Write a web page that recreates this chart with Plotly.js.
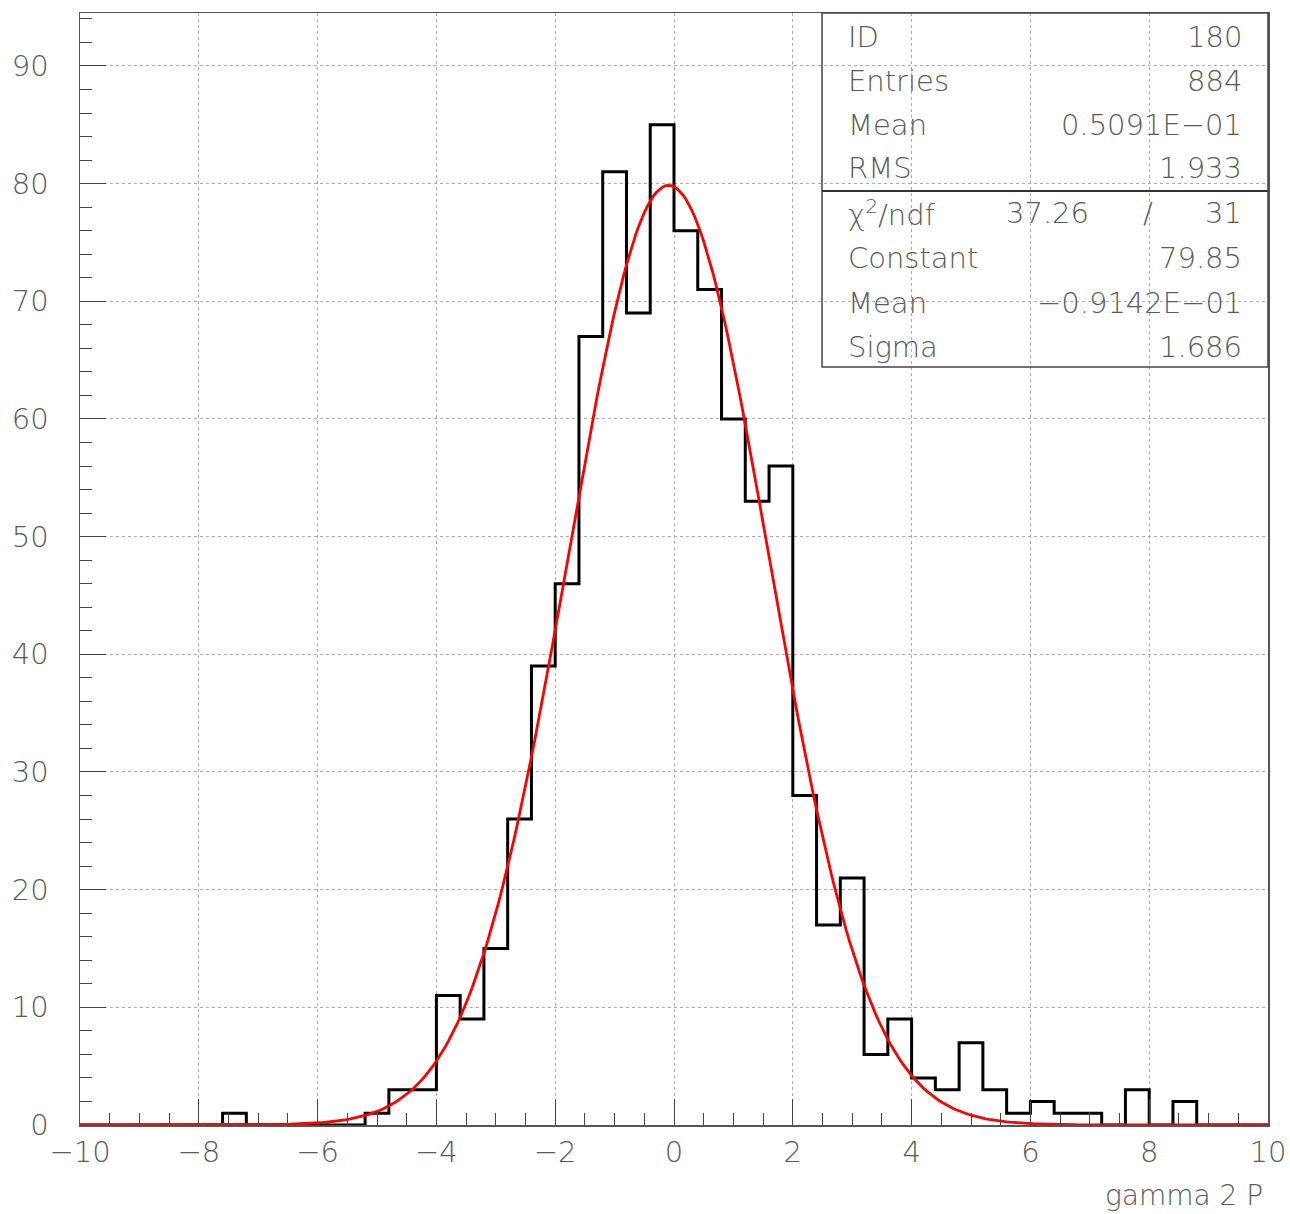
<!DOCTYPE html>
<html>
<head>
<meta charset="utf-8">
<script src="https://cdn.plot.ly/plotly-3.0.1.min.js"></script>
<style>html,body{margin:0;padding:0;background:#fff;}#chart{width:1290px;height:1214px;}</style>
</head>
<body>
<div id="chart"></div>
<script>
// Histogram definition: 50 bins from -10 to 10
const binLow = -10;
const binHigh = 10;
const binCounts = [
  0, 0, 0, 0, 0, 0, 1, 0, 0, 0,
  0, 0, 1, 3, 3, 11, 9, 15, 26, 39,
  46, 67, 81, 69, 85, 76, 71, 60, 53, 56,
  28, 17, 21, 6, 9, 4, 3, 7, 3, 1,
  2, 1, 1, 0, 3, 0, 2, 0, 0, 0
];
// Fit parameters shown in the stats box
const fitConstant = 79.85;
const fitMean = -0.09142;
const fitSigma = 1.686;
// Stats box text
const statLabels = ["ID", "Entries", "Mean", "RMS", "χ<sup>2</sup>/ndf", "Constant", "Mean", "Sigma"];
const statValues = ["180", "884", "0.5091E−01", "1.933", "31", "79.85", "−0.9142E−01", "1.686"];
const chi2Value = "37.26";
const xTitle = "gamma 2 P";

const nBins = binCounts.length;
const binW = (binHigh - binLow) / nBins;
const edges = [];
for (let i = 0; i <= nBins; i++) edges.push(binLow + i * binW);
const stepY = binCounts.concat([binCounts[nBins - 1]]);

const fitX = [], fitY = [];
for (let i = 0; i <= 400; i++) {
  const x = binLow + i * (binHigh - binLow) / 400;
  fitX.push(x);
  fitY.push(fitConstant * Math.exp(-0.5 * Math.pow((x - fitMean) / fitSigma, 2)));
}

const FONT = "DejaVu Sans";
const TXT = "#5a5a5a";
const W = 200;

const traces = [
  {x: edges, y: stepY, type: "scatter", mode: "lines", line: {shape: "hv", color: "#000", width: 3}, hoverinfo: "skip"},
  {x: fitX, y: fitY, type: "scatter", mode: "lines", line: {color: "#ff0000", width: 2.8}, hoverinfo: "skip"}
];

// Stats box geometry (paper coords)
const bx0 = 0.6246, bx1 = 1.0, byTop = 1.0, byDiv = 0.8399, byBot = 0.6817;
const rowY = [0.9784, 0.9388, 0.8993, 0.8606, 0.8201, 0.7797, 0.7392, 0.6996];
const labX = 0.6448, valX = 0.9798;

function fnt(sz) { return {family: FONT, size: sz, color: TXT, weight: W}; }

const annotations = [];
statLabels.forEach((t, i) => {
  annotations.push({xref: "paper", yref: "paper", x: labX, y: rowY[i], text: t, showarrow: false,
    xanchor: "left", yanchor: "middle", font: fnt(29)});
  annotations.push({xref: "paper", yref: "paper", x: valX, y: rowY[i], text: statValues[i], showarrow: false,
    xanchor: "right", yanchor: "middle", font: fnt(29)});
});
annotations.push({xref: "paper", yref: "paper", x: 0.814, y: rowY[4], text: chi2Value, showarrow: false,
  xanchor: "center", yanchor: "middle", font: fnt(29)});
annotations.push({xref: "paper", yref: "paper", x: 0.899, y: rowY[4], text: "/", showarrow: false,
  xanchor: "center", yanchor: "middle", font: fnt(29)});
annotations.push({xref: "paper", yref: "paper", x: 0.9975, y: -0.0638, text: xTitle, showarrow: false,
  xanchor: "right", yanchor: "middle", font: fnt(28)});

const layout = {
  width: 1290, height: 1214,
  margin: {l: 80, r: 22, t: 13, b: 89},
  paper_bgcolor: "#fff", plot_bgcolor: "#fff",
  showlegend: false,
  font: fnt(29),
  xaxis: {
    range: [binLow, binHigh], tick0: -10, dtick: 2,
    ticks: "inside", ticklen: 26, tickwidth: 1, tickcolor: "#444",
    minor: {dtick: 0.5, ticks: "inside", ticklen: 12, tickcolor: "#444", showgrid: false},
    showgrid: true, gridcolor: "#aaa", griddash: "dot", gridwidth: 1,
    showline: true, linecolor: "#555", linewidth: 1.5, mirror: true,
    zeroline: false, ticklabelstandoff: 1,
    tickfont: fnt(29)
  },
  yaxis: {
    range: [0, 94.5], tick0: 0, dtick: 10,
    ticks: "inside", ticklen: 26, tickwidth: 1, tickcolor: "#444",
    minor: {dtick: 2, ticks: "inside", ticklen: 12, tickcolor: "#444", showgrid: false},
    showgrid: true, gridcolor: "#aaa", griddash: "dot", gridwidth: 1,
    showline: true, linecolor: "#555", linewidth: 1.5, mirror: true,
    zeroline: false, ticklabelstandoff: 24,
    tickfont: fnt(29)
  },
  shapes: [
    {type: "rect", xref: "paper", yref: "paper", x0: bx0, x1: bx1, y0: byBot, y1: byTop,
      line: {color: "#444", width: 1.5}, fillcolor: "rgba(0,0,0,0)"},
    {type: "line", xref: "paper", yref: "paper", x0: bx0, x1: bx1, y0: byDiv, y1: byDiv,
      line: {color: "#333", width: 2}}
  ],
  annotations: annotations
};

Plotly.newPlot("chart", traces, layout, {displayModeBar: false, staticPlot: true});
</script>
</body>
</html>
